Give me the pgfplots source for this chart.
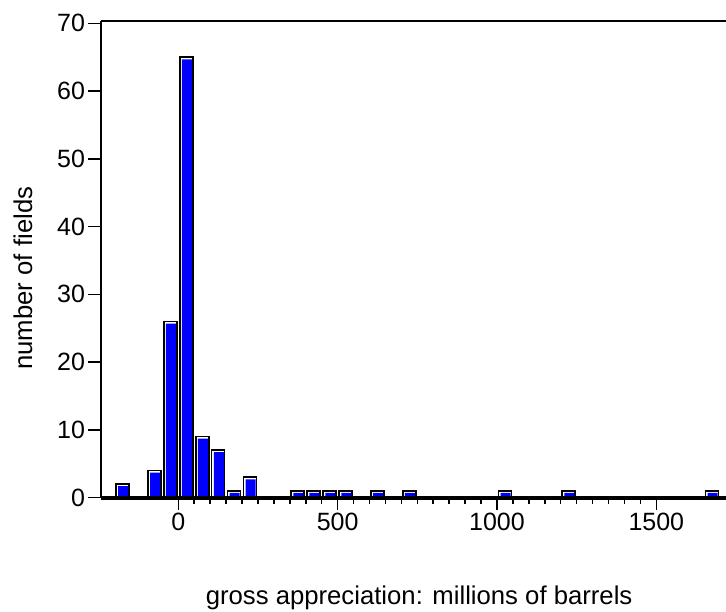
\documentclass[border=0pt]{standalone}
\usepackage{pgfplots}
\usepackage{pgfplotstable}
\pgfplotsset{compat=1.18}
\usepackage{fontspec}
\setmainfont{Liberation Sans}
\definecolor{barblue}{RGB}{0,0,255}
\newcommand\fz{\fontsize{25}{30}\selectfont}
\newcommand\fl{\fontsize{25.7}{30}\selectfont}

% histogram of gross appreciation, 50-unit bins (bin midpoint, number of fields)
\pgfplotstableread{
mid count
-175 2
-75 4
-25 26
25 65
75 9
125 7
175 1
225 3
375 1
425 1
475 1
525 1
625 1
725 1
1025 1
1225 1
1675 1
}\fieldcounts

\begin{document}
\begin{tikzpicture}
\useasboundingbox (-101pt,-113.5pt) rectangle (625pt,497.5pt);
\begin{axis}[
  name=ax, at={(0pt,0pt)}, anchor=south west,
  scale only axis, width=625pt, height=476.8pt,
  xmin=-242.6, xmax=1718.7, ymin=0, ymax=70.39,
  axis x line=box, axis y line=left,
  x axis line style={-, line width=2pt},
  y axis line style={-, line width=1.8pt},
  xtick={0,500,1000,1500}, ytick={0,10,...,70},
  minor x tick num=9,
  xtick pos=bottom, ytick pos=left,
  tick align=outside,
  major tick length=12.5pt, minor tick length=6pt,
  every tick/.style={black, line width=1.5pt},
  /pgf/number format/assume math mode=true,
  /pgf/number format/1000 sep={},
  tick label style={font=\fz},
  xlabel={gross appreciation: millions of barrels},
  ylabel={number of fields},
  every axis x label/.style={at={(axis description cs:0.509,-0.2234)}, anchor=base, font=\fl},
  every axis y label/.style={at={(axis description cs:-0.1248,0.460)}, anchor=center, rotate=90, font=\fl},
]
% outer bar: black outline, white bevel underneath
\addplot[ybar, bar width=13pt, bar shift=0pt, fill=white, draw=black, line width=1.7pt]
  table[x=mid, y=count]{\fieldcounts};
% inner blue face, inset from the left and top edges
\addplot[ybar, bar width=10pt, bar shift=0.65pt, yshift=-2.15pt, fill=barblue, draw=none]
  table[x=mid, y=count]{\fieldcounts};
\end{axis}
\draw[line width=4pt] (ax.south west) -- (ax.south east);
\end{tikzpicture}
\end{document}
